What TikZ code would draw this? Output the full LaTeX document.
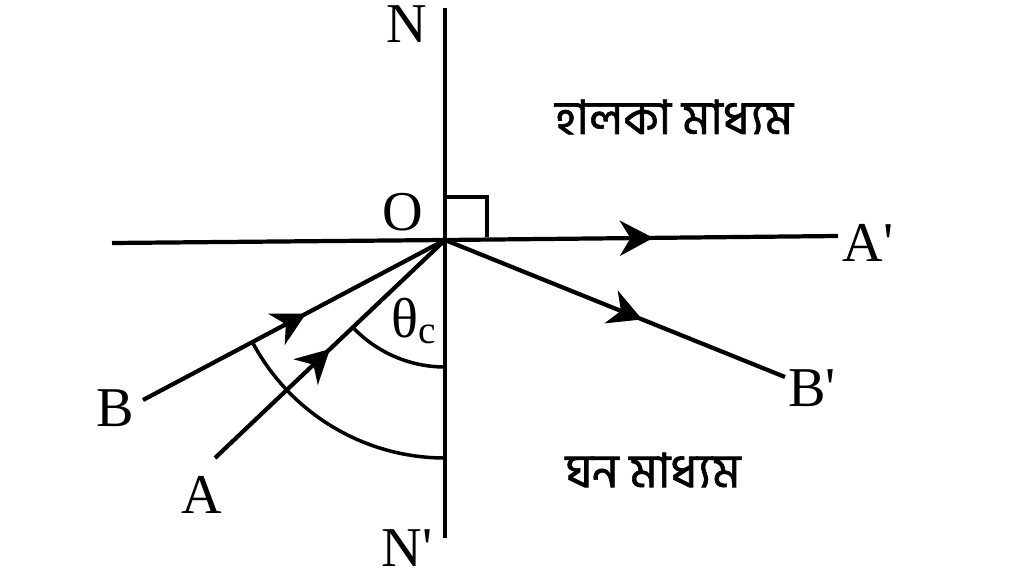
\documentclass[tikz,border=0pt]{standalone}
\usepackage{fontspec}
\setmainfont{Liberation Serif}
\newfontfamily\bengalifont[Script=Bengali, FakeBold=1.2]{Hind Siliguri}
\usetikzlibrary{arrows.meta, decorations.markings}

\begin{document}
\begin{tikzpicture}[x=0.02cm, y=-0.02cm]
    % Estilos de rayos y etiquetas
    \tikzset{
        rayline/.style={line width=2.4pt},
        midarrow/.style={
            decoration={markings, mark=at position #1 with {\arrow{Stealth[length=19pt, width=20pt, inset=6pt]}}},
            postaction={decorate}
        },
        letter/.style={font=\fontsize{32}{36}\selectfont, inner sep=0pt},
        medium/.style={font=\bengalifont\fontsize{27}{32}\selectfont, inner sep=0pt}
    }
    \useasboundingbox (0,0) rectangle (1024,588);

    % Puntos
    \coordinate (O) at (445,240);
    \coordinate (ntop) at (445,8);
    \coordinate (nbot) at (445,538);
    \coordinate (left) at (112,243);
    \coordinate (aright) at (838,236);
    \coordinate (bstart) at (143,400);
    \coordinate (astart) at (215,458);
    \coordinate (bend) at (785,377);

    % Etiquetas
    \node[letter] (N) at (407,24) {N};
    \node[letter] (Nprime) at (407,548) {N\textquotesingle};
    \node[letter] (Olabel) at (403,212) {O};
    \node[letter] (Aprime) at (868,243) {A\textquotesingle};
    \node[letter] (Bprime) at (812,388) {B\textquotesingle};
    \node[letter] (B) at (115,408) {B};
    \node[letter] (A) at (202,495) {A};
    \node[letter] (theta) at (414,321) {θ\textsubscript{c}};
    \node[medium] (light) at (674,117) {হালকা মাধ্যম};
    \node[medium] (dense) at (653,470) {ঘন মাধ্যম};

    % Normal y superficie
    \draw[rayline] (ntop) -- (nbot);
    \draw[rayline] (left) -- (O);
    \draw[rayline, midarrow=0.53] (O) -- (aright);
    \draw[line width=2pt] (445,197) -- (487,197) -- (487,237);

    % Rayos
    \draw[rayline, midarrow=0.54] (bstart) -- (O);
    \draw[rayline, midarrow=0.5] (astart) -- (O);
    \draw[rayline, midarrow=0.58] (O) -- (bend);

    % Angulos
    \draw[line width=2pt] (445,367) arc[start angle=90, end angle=136.5, radius=127];
    \draw[line width=2pt] (445,458) arc[start angle=90, end angle=152, radius=218];
\end{tikzpicture}
\end{document}
